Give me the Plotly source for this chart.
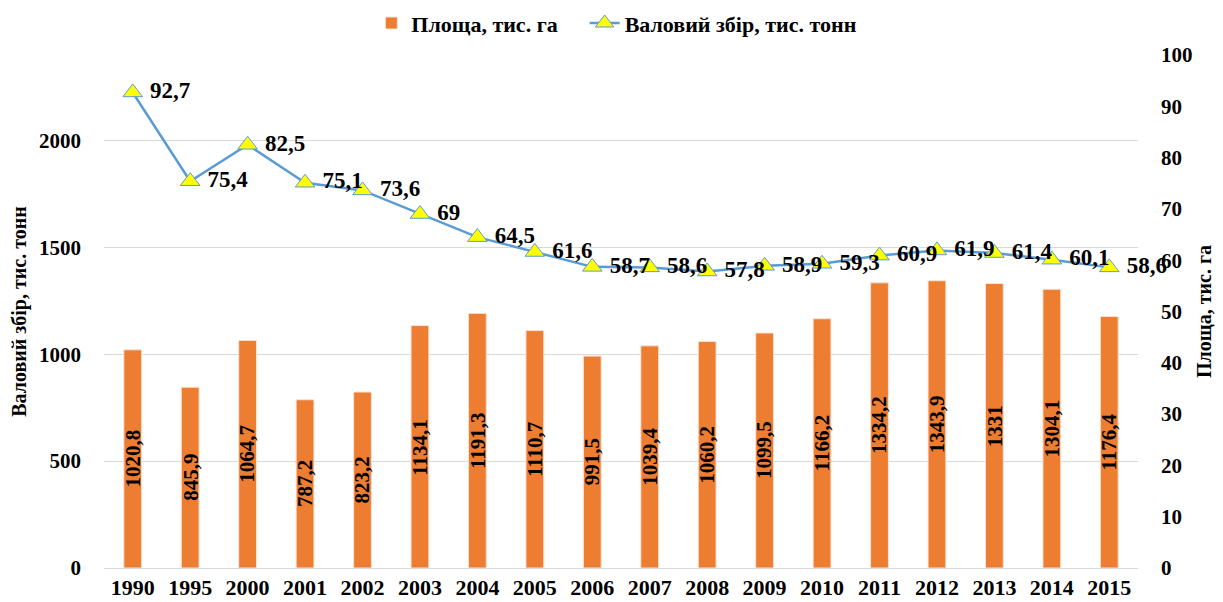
import plotly.graph_objects as go

years = ["1990", "1995", "2000", "2001", "2002", "2003", "2004", "2005", "2006",
         "2007", "2008", "2009", "2010", "2011", "2012", "2013", "2014", "2015"]
area = [1020.8, 845.9, 1064.7, 787.2, 823.2, 1134.1, 1191.3, 1110.7, 991.5,
        1039.4, 1060.2, 1099.5, 1166.2, 1334.2, 1343.9, 1331, 1304.1, 1176.4]
harvest = [92.7, 75.4, 82.5, 75.1, 73.6, 69, 64.5, 61.6, 58.7,
           58.6, 57.8, 58.9, 59.3, 60.9, 61.9, 61.4, 60.1, 58.6]

bar_name = "Площа, тис. га"
line_name = "Валовий збір, тис. тонн"
left_title = "Валовий збір, тис. тонн"
right_title = "Площа, тис. га"

FONT = "Liberation Serif, Times New Roman, serif"


def fmt(v):
    s = f"{v:g}"
    return s.replace(".", ",")


fig = go.Figure()
fig.add_trace(go.Bar(
    x=years, y=area, name=bar_name + "\u00a0\u00a0\u00a0\u00a0",
    marker=dict(color="#ED7D31", line=dict(color="#FBE2D5", width=1)),
    yaxis="y", hoverinfo="x+y",
))
fig.add_trace(go.Scatter(
    x=years, y=harvest, name=line_name, yaxis="y2",
    mode="lines+markers+text",
    line=dict(color="#5B9BD5", width=2.5),
    marker=dict(symbol="triangle-up", size=17, color="#FFFF00",
                line=dict(color="#5B9BD5", width=1)),
    text=[" " + fmt(v) for v in harvest], textposition="middle right",
    textfont=dict(family=FONT, size=23, color="black", weight="bold"),
    cliponaxis=False,
))

# bar value labels, centred in each bar (category index on the x axis)
for i, v in enumerate(area):
    fig.add_annotation(x=i, y=v / 2, xref="x", yref="y", text=fmt(v),
                       textangle=-90, showarrow=False,
                       font=dict(family=FONT, size=21, color="black"))

fig.update_layout(
    width=1215, height=594,
    margin=dict(l=96, r=85, t=47, b=34, autoexpand=False),
    paper_bgcolor="white", plot_bgcolor="white",
    font=dict(family=FONT, size=20, color="black", weight="bold"),
    bargap=0.69,
    showlegend=True,
    legend=dict(orientation="h", x=0.496, xanchor="center", y=1.062, yref="paper",
                yanchor="middle", font=dict(family=FONT, size=22, color="black", weight="bold"),
                itemwidth=30, traceorder="normal"),
    xaxis=dict(type="category", range=[-0.5, len(years) - 0.5], autorange=False,
               showgrid=False, showline=True, linecolor="#D9D9D9",
               ticks="", tickfont=dict(family=FONT, size=22, weight="bold")),
    yaxis=dict(range=[0, 2400], tickvals=[0, 500, 1000, 1500, 2000],
               showgrid=True, gridcolor="#D9D9D9", gridwidth=1, zeroline=False,
               ticklabelstandoff=22,
               tickfont=dict(family=FONT, size=21, weight="bold"),
               title=dict(text=left_title, standoff=10,
                          font=dict(family=FONT, size=20, weight="bold"))),
    yaxis2=dict(range=[0, 100], dtick=10, overlaying="y", side="right",
                showgrid=False, zeroline=False, ticklabelstandoff=22,
                tickfont=dict(family=FONT, size=21, weight="bold"),
                title=dict(text=right_title, standoff=5,
                           font=dict(family=FONT, size=20, weight="bold"))),
)

fig.write_html("out.html")
